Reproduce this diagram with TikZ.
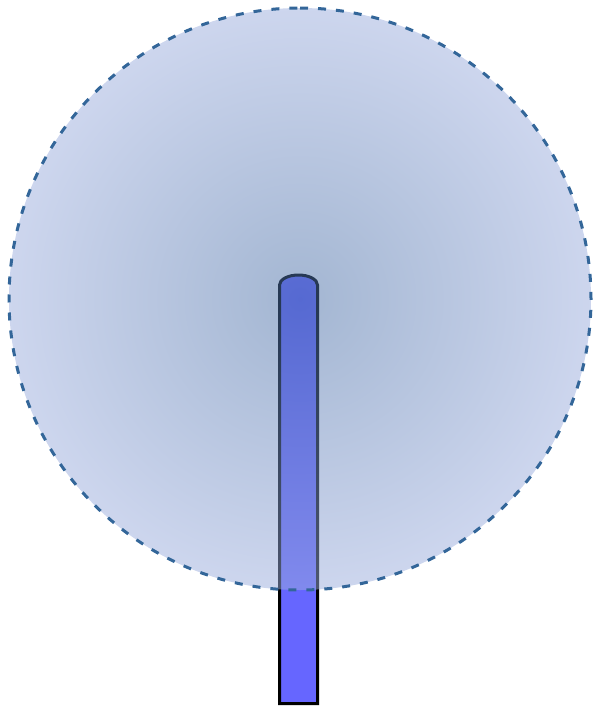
\documentclass[tikz,border=0pt]{standalone}
\usetikzlibrary{shadings}
\definecolor{rodblue}{RGB}{102,102,255}
\definecolor{haloin}{RGB}{71,109,165}
\definecolor{haloout}{RGB}{155,173,221}
\definecolor{dashblue}{RGB}{51,102,153}
\pgfdeclareradialshading{halo}{\pgfpoint{0bp}{0bp}}{color(0bp)=(haloin); color(25bp)=(haloout); color(50bp)=(haloout)}
\tikzset{
  rodstyle/.style={fill=rodblue, draw=black, line width=3pt, line join=miter},
  halofill/.style={shading=halo, fill opacity=0.5, draw=none},
  haloedge/.style={draw=dashblue, line width=3pt, dash pattern=on 8pt off 10pt}
}
\begin{document}
\begin{tikzpicture}[x=1pt,y=-1pt]
\useasboundingbox (0,0) rectangle (595,707);
\coordinate (c) at (300,299);
\coordinate (top) at (300,8);
% rod
\draw[rodstyle] (279.5,703.5) -- (279.5,285) arc[start angle=180, end angle=360, x radius=19, y radius=10] -- (317.5,703.5) -- cycle;
% halo
\shade[halofill] (c) circle[radius=291];
\draw[haloedge] (top) arc[start angle=-90, end angle=270, radius=291];
\end{tikzpicture}
\end{document}
